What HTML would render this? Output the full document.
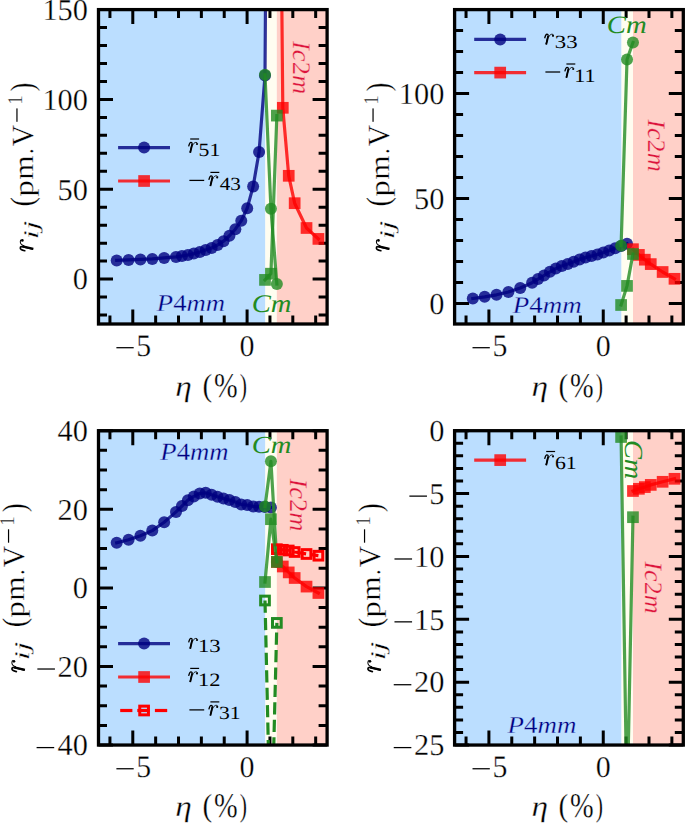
<!DOCTYPE html><html><head><meta charset="utf-8"><style>html,body{margin:0;padding:0;background:#fff;overflow:hidden}svg{display:block}</style></head><body><svg width="685" height="824" viewBox="0 0 685 824" font-family="'Liberation Serif', serif" text-rendering="geometricPrecision">
<rect width="685" height="824" fill="#fff"/>
<style>.w text{stroke:#fff;stroke-width:0.3px}.bb text{stroke:#BBDEFF;stroke-width:0.3px}.pk text{stroke:#FFD0C8;stroke-width:0.3px}</style>
<defs>
<g id="cmr" fill="none" stroke="#000"><path d="M0.025 0.285 C0.045 0.36 0.07 0.432 0.112 0.432 C0.155 0.432 0.172 0.405 0.163 0.36 L0.085 0.028" stroke-width="0.056" stroke-linecap="round" stroke-linejoin="round"/><path d="M0.17 0.36 L0.084 0.0" stroke-width="0.076"/><path d="M0.185 0.30 C0.215 0.385 0.27 0.434 0.325 0.434 C0.36 0.434 0.388 0.42 0.394 0.398" stroke-width="0.034"/><circle cx="0.37" cy="0.365" r="0.045" fill="#000" stroke="none"/></g>
<clipPath id="ctl"><rect x="98.5" y="9.6" width="228.6" height="314.4"/></clipPath>
<clipPath id="ctr"><rect x="454.6" y="9.6" width="228.7" height="314.4"/></clipPath>
<clipPath id="cbl"><rect x="98.5" y="430.7" width="228.6" height="314.35"/></clipPath>
<clipPath id="cbr"><rect x="454.6" y="430.7" width="228.7" height="314.35"/></clipPath>
</defs>
<rect x="98.5" y="9.6" width="166.88" height="314.4" fill="#BBDEFF"/>
<rect x="265.38" y="9.6" width="11.43" height="314.4" fill="#FFFDF0"/>
<rect x="276.81" y="9.6" width="50.29" height="314.4" fill="#FFD0C8"/>
<path d="M132.79 324v-14.5M132.79 9.6v14.5M247.09 324v-14.5M247.09 9.6v14.5M109.93 324v-8.5M109.93 9.6v8.5M155.65 324v-8.5M155.65 9.6v8.5M178.51 324v-8.5M178.51 9.6v8.5M201.37 324v-8.5M201.37 9.6v8.5M224.23 324v-8.5M224.23 9.6v8.5M269.95 324v-8.5M269.95 9.6v8.5M292.81 324v-8.5M292.81 9.6v8.5M315.67 324v-8.5M315.67 9.6v8.5M98.5 279.09h14.5M327.1 279.09h-14.5M98.5 189.26h14.5M327.1 189.26h-14.5M98.5 99.43h14.5M327.1 99.43h-14.5M98.5 9.6h14.5M327.1 9.6h-14.5M98.5 315.02h8.5M327.1 315.02h-8.5M98.5 297.05h8.5M327.1 297.05h-8.5M98.5 261.12h8.5M327.1 261.12h-8.5M98.5 243.15h8.5M327.1 243.15h-8.5M98.5 225.19h8.5M327.1 225.19h-8.5M98.5 207.22h8.5M327.1 207.22h-8.5M98.5 171.29h8.5M327.1 171.29h-8.5M98.5 153.33h8.5M327.1 153.33h-8.5M98.5 135.36h8.5M327.1 135.36h-8.5M98.5 117.39h8.5M327.1 117.39h-8.5M98.5 81.46h8.5M327.1 81.46h-8.5M98.5 63.5h8.5M327.1 63.5h-8.5M98.5 45.53h8.5M327.1 45.53h-8.5M98.5 27.57h8.5M327.1 27.57h-8.5" stroke="#000" stroke-width="3.0" fill="none"/>
<g clip-path="url(#ctl)">
<path d="M116.7 260.4L128.56 259.9L140.43 259.4L152.29 258.9L164.16 257.9L176.02 256.9L181.95 256L187.88 255L193.82 253.6L199.75 252L205.68 250L211.61 248L217.54 245L223.48 241.2L229.41 235.8L235.34 229.2L241.27 220.7L247.2 208.3L253.14 186.4L259.07 151.9L265 75.5L270.93 -800" stroke="#000080" stroke-opacity="0.8" stroke-width="3.2" fill="none" stroke-linejoin="round" stroke-linecap="square"/>
<circle cx="116.7" cy="260.4" r="6.0" fill="#000080" fill-opacity="0.8"/>
<circle cx="128.56" cy="259.9" r="6.0" fill="#000080" fill-opacity="0.8"/>
<circle cx="140.43" cy="259.4" r="6.0" fill="#000080" fill-opacity="0.8"/>
<circle cx="152.29" cy="258.9" r="6.0" fill="#000080" fill-opacity="0.8"/>
<circle cx="164.16" cy="257.9" r="6.0" fill="#000080" fill-opacity="0.8"/>
<circle cx="176.02" cy="256.9" r="6.0" fill="#000080" fill-opacity="0.8"/>
<circle cx="181.95" cy="256" r="6.0" fill="#000080" fill-opacity="0.8"/>
<circle cx="187.88" cy="255" r="6.0" fill="#000080" fill-opacity="0.8"/>
<circle cx="193.82" cy="253.6" r="6.0" fill="#000080" fill-opacity="0.8"/>
<circle cx="199.75" cy="252" r="6.0" fill="#000080" fill-opacity="0.8"/>
<circle cx="205.68" cy="250" r="6.0" fill="#000080" fill-opacity="0.8"/>
<circle cx="211.61" cy="248" r="6.0" fill="#000080" fill-opacity="0.8"/>
<circle cx="217.54" cy="245" r="6.0" fill="#000080" fill-opacity="0.8"/>
<circle cx="223.48" cy="241.2" r="6.0" fill="#000080" fill-opacity="0.8"/>
<circle cx="229.41" cy="235.8" r="6.0" fill="#000080" fill-opacity="0.8"/>
<circle cx="235.34" cy="229.2" r="6.0" fill="#000080" fill-opacity="0.8"/>
<circle cx="241.27" cy="220.7" r="6.0" fill="#000080" fill-opacity="0.8"/>
<circle cx="247.2" cy="208.3" r="6.0" fill="#000080" fill-opacity="0.8"/>
<circle cx="253.14" cy="186.4" r="6.0" fill="#000080" fill-opacity="0.8"/>
<circle cx="259.07" cy="151.9" r="6.0" fill="#000080" fill-opacity="0.8"/>
<circle cx="265" cy="75.5" r="6.0" fill="#000080" fill-opacity="0.8"/>
<path d="M265 74.8L270.93 208.7L276.86 284.1" stroke="#228B22" stroke-opacity="0.8" stroke-width="3.2" fill="none" stroke-linejoin="round" stroke-linecap="square"/>
<circle cx="265" cy="74.8" r="6.0" fill="#228B22" fill-opacity="0.8"/>
<circle cx="270.93" cy="208.7" r="6.0" fill="#228B22" fill-opacity="0.8"/>
<circle cx="276.86" cy="284.1" r="6.0" fill="#228B22" fill-opacity="0.8"/>
<path d="M276.86 -525L282.8 107.8L288.73 175.8L294.66 203.2L306.52 228L318.39 238.9" stroke="#FF0000" stroke-opacity="0.8" stroke-width="3.2" fill="none" stroke-linejoin="round" stroke-linecap="square"/>
<rect x="276.95" y="101.95" width="11.7" height="11.7" fill="#FF0000" fill-opacity="0.8"/>
<rect x="282.88" y="169.95" width="11.7" height="11.7" fill="#FF0000" fill-opacity="0.8"/>
<rect x="288.81" y="197.35" width="11.7" height="11.7" fill="#FF0000" fill-opacity="0.8"/>
<rect x="300.67" y="222.15" width="11.7" height="11.7" fill="#FF0000" fill-opacity="0.8"/>
<rect x="312.54" y="233.05" width="11.7" height="11.7" fill="#FF0000" fill-opacity="0.8"/>
<path d="M265 279.9L270.93 273.7L276.86 115.6" stroke="#228B22" stroke-opacity="0.8" stroke-width="3.2" fill="none" stroke-linejoin="round" stroke-linecap="square"/>
<rect x="259.15" y="274.05" width="11.7" height="11.7" fill="#228B22" fill-opacity="0.8"/>
<rect x="265.08" y="267.85" width="11.7" height="11.7" fill="#228B22" fill-opacity="0.8"/>
<rect x="271.01" y="109.75" width="11.7" height="11.7" fill="#228B22" fill-opacity="0.8"/>
</g>
<rect x="98.5" y="9.6" width="228.6" height="314.4" fill="none" stroke="#000" stroke-width="3.3"/>
<rect x="454.6" y="9.6" width="166.95" height="314.4" fill="#BBDEFF"/>
<rect x="621.55" y="9.6" width="11.44" height="314.4" fill="#FFFDF0"/>
<rect x="632.99" y="9.6" width="50.31" height="314.4" fill="#FFD0C8"/>
<path d="M488.91 324v-14.5M488.91 9.6v14.5M603.25 324v-14.5M603.25 9.6v14.5M466.04 324v-8.5M466.04 9.6v8.5M511.77 324v-8.5M511.77 9.6v8.5M534.64 324v-8.5M534.64 9.6v8.5M557.51 324v-8.5M557.51 9.6v8.5M580.38 324v-8.5M580.38 9.6v8.5M626.12 324v-8.5M626.12 9.6v8.5M648.99 324v-8.5M648.99 9.6v8.5M671.87 324v-8.5M671.87 9.6v8.5M454.6 303.41h14.5M683.3 303.41h-14.5M454.6 198.44h14.5M683.3 198.44h-14.5M454.6 93.47h14.5M683.3 93.47h-14.5M454.6 282.41h8.5M683.3 282.41h-8.5M454.6 261.42h8.5M683.3 261.42h-8.5M454.6 240.42h8.5M683.3 240.42h-8.5M454.6 219.43h8.5M683.3 219.43h-8.5M454.6 177.44h8.5M683.3 177.44h-8.5M454.6 156.45h8.5M683.3 156.45h-8.5M454.6 135.46h8.5M683.3 135.46h-8.5M454.6 114.46h8.5M683.3 114.46h-8.5M454.6 72.48h8.5M683.3 72.48h-8.5M454.6 51.48h8.5M683.3 51.48h-8.5M454.6 30.49h8.5M683.3 30.49h-8.5" stroke="#000" stroke-width="3.0" fill="none"/>
<g clip-path="url(#ctr)">
<path d="M472.8 298.5L484.66 296.8L496.53 294.8L508.39 292L520.26 288L532.12 282.7L538.05 279.1L543.98 275.5L549.92 271.8L555.85 268.6L561.78 265.9L567.71 263.9L573.64 261.8L579.58 259.4L585.51 257.6L591.44 256L597.37 254.5L603.3 252.6L609.24 250.5L615.17 248.2L621.1 246L627.03 243.7" stroke="#000080" stroke-opacity="0.8" stroke-width="3.2" fill="none" stroke-linejoin="round" stroke-linecap="square"/>
<circle cx="472.8" cy="298.5" r="6.0" fill="#000080" fill-opacity="0.8"/>
<circle cx="484.66" cy="296.8" r="6.0" fill="#000080" fill-opacity="0.8"/>
<circle cx="496.53" cy="294.8" r="6.0" fill="#000080" fill-opacity="0.8"/>
<circle cx="508.39" cy="292" r="6.0" fill="#000080" fill-opacity="0.8"/>
<circle cx="520.26" cy="288" r="6.0" fill="#000080" fill-opacity="0.8"/>
<circle cx="532.12" cy="282.7" r="6.0" fill="#000080" fill-opacity="0.8"/>
<circle cx="538.05" cy="279.1" r="6.0" fill="#000080" fill-opacity="0.8"/>
<circle cx="543.98" cy="275.5" r="6.0" fill="#000080" fill-opacity="0.8"/>
<circle cx="549.92" cy="271.8" r="6.0" fill="#000080" fill-opacity="0.8"/>
<circle cx="555.85" cy="268.6" r="6.0" fill="#000080" fill-opacity="0.8"/>
<circle cx="561.78" cy="265.9" r="6.0" fill="#000080" fill-opacity="0.8"/>
<circle cx="567.71" cy="263.9" r="6.0" fill="#000080" fill-opacity="0.8"/>
<circle cx="573.64" cy="261.8" r="6.0" fill="#000080" fill-opacity="0.8"/>
<circle cx="579.58" cy="259.4" r="6.0" fill="#000080" fill-opacity="0.8"/>
<circle cx="585.51" cy="257.6" r="6.0" fill="#000080" fill-opacity="0.8"/>
<circle cx="591.44" cy="256" r="6.0" fill="#000080" fill-opacity="0.8"/>
<circle cx="597.37" cy="254.5" r="6.0" fill="#000080" fill-opacity="0.8"/>
<circle cx="603.3" cy="252.6" r="6.0" fill="#000080" fill-opacity="0.8"/>
<circle cx="609.24" cy="250.5" r="6.0" fill="#000080" fill-opacity="0.8"/>
<circle cx="615.17" cy="248.2" r="6.0" fill="#000080" fill-opacity="0.8"/>
<circle cx="621.1" cy="246" r="6.0" fill="#000080" fill-opacity="0.8"/>
<circle cx="627.03" cy="243.7" r="6.0" fill="#000080" fill-opacity="0.8"/>
<path d="M621.1 245.8L627.03 59.5L632.96 42.6" stroke="#228B22" stroke-opacity="0.8" stroke-width="3.2" fill="none" stroke-linejoin="round" stroke-linecap="square"/>
<circle cx="621.1" cy="245.8" r="6.0" fill="#228B22" fill-opacity="0.8"/>
<circle cx="627.03" cy="59.5" r="6.0" fill="#228B22" fill-opacity="0.8"/>
<circle cx="632.96" cy="42.6" r="6.0" fill="#228B22" fill-opacity="0.8"/>
<path d="M632.96 249.2L638.9 254.9L644.83 259.7L650.76 264.1L662.62 272L674.49 278.8" stroke="#FF0000" stroke-opacity="0.8" stroke-width="3.2" fill="none" stroke-linejoin="round" stroke-linecap="square"/>
<rect x="627.11" y="243.35" width="11.7" height="11.7" fill="#FF0000" fill-opacity="0.8"/>
<rect x="633.05" y="249.05" width="11.7" height="11.7" fill="#FF0000" fill-opacity="0.8"/>
<rect x="638.98" y="253.85" width="11.7" height="11.7" fill="#FF0000" fill-opacity="0.8"/>
<rect x="644.91" y="258.25" width="11.7" height="11.7" fill="#FF0000" fill-opacity="0.8"/>
<rect x="656.77" y="266.15" width="11.7" height="11.7" fill="#FF0000" fill-opacity="0.8"/>
<rect x="668.64" y="272.95" width="11.7" height="11.7" fill="#FF0000" fill-opacity="0.8"/>
<path d="M621.1 305L627.03 285.9L632.96 254" stroke="#228B22" stroke-opacity="0.8" stroke-width="3.2" fill="none" stroke-linejoin="round" stroke-linecap="square"/>
<rect x="615.25" y="299.15" width="11.7" height="11.7" fill="#228B22" fill-opacity="0.8"/>
<rect x="621.18" y="280.05" width="11.7" height="11.7" fill="#228B22" fill-opacity="0.8"/>
<rect x="627.11" y="248.15" width="11.7" height="11.7" fill="#228B22" fill-opacity="0.8"/>
</g>
<rect x="454.6" y="9.6" width="228.7" height="314.4" fill="none" stroke="#000" stroke-width="3.3"/>
<rect x="98.5" y="430.7" width="166.88" height="314.35" fill="#BBDEFF"/>
<rect x="265.38" y="430.7" width="11.43" height="314.35" fill="#FFFDF0"/>
<rect x="276.81" y="430.7" width="50.29" height="314.35" fill="#FFD0C8"/>
<path d="M132.79 745.05v-14.5M132.79 430.7v14.5M247.09 745.05v-14.5M247.09 430.7v14.5M109.93 745.05v-8.5M109.93 430.7v8.5M155.65 745.05v-8.5M155.65 430.7v8.5M178.51 745.05v-8.5M178.51 430.7v8.5M201.37 745.05v-8.5M201.37 430.7v8.5M224.23 745.05v-8.5M224.23 430.7v8.5M269.95 745.05v-8.5M269.95 430.7v8.5M292.81 745.05v-8.5M292.81 430.7v8.5M315.67 745.05v-8.5M315.67 430.7v8.5M98.5 745.05h14.5M327.1 745.05h-14.5M98.5 666.46h14.5M327.1 666.46h-14.5M98.5 587.88h14.5M327.1 587.88h-14.5M98.5 509.29h14.5M327.1 509.29h-14.5M98.5 430.7h14.5M327.1 430.7h-14.5M98.5 725.4h8.5M327.1 725.4h-8.5M98.5 705.76h8.5M327.1 705.76h-8.5M98.5 686.11h8.5M327.1 686.11h-8.5M98.5 646.82h8.5M327.1 646.82h-8.5M98.5 627.17h8.5M327.1 627.17h-8.5M98.5 607.52h8.5M327.1 607.52h-8.5M98.5 568.23h8.5M327.1 568.23h-8.5M98.5 548.58h8.5M327.1 548.58h-8.5M98.5 528.93h8.5M327.1 528.93h-8.5M98.5 489.64h8.5M327.1 489.64h-8.5M98.5 469.99h8.5M327.1 469.99h-8.5M98.5 450.35h8.5M327.1 450.35h-8.5" stroke="#000" stroke-width="3.0" fill="none"/>
<g clip-path="url(#cbl)">
<path d="M116.7 542.7L128.56 539.8L140.43 535.7L152.29 530.6L164.16 522.3L176.02 511.9L181.95 506.1L187.88 500.2L193.82 496.4L199.75 493.5L205.68 492.8L211.61 494.8L217.54 496.7L223.48 498.5L229.41 500L235.34 502L241.27 504.5L247.2 505L253.14 506.5L259.07 506.8L265 507L270.93 507.4" stroke="#000080" stroke-opacity="0.8" stroke-width="3.2" fill="none" stroke-linejoin="round" stroke-linecap="square"/>
<circle cx="116.7" cy="542.7" r="6.0" fill="#000080" fill-opacity="0.8"/>
<circle cx="128.56" cy="539.8" r="6.0" fill="#000080" fill-opacity="0.8"/>
<circle cx="140.43" cy="535.7" r="6.0" fill="#000080" fill-opacity="0.8"/>
<circle cx="152.29" cy="530.6" r="6.0" fill="#000080" fill-opacity="0.8"/>
<circle cx="164.16" cy="522.3" r="6.0" fill="#000080" fill-opacity="0.8"/>
<circle cx="176.02" cy="511.9" r="6.0" fill="#000080" fill-opacity="0.8"/>
<circle cx="181.95" cy="506.1" r="6.0" fill="#000080" fill-opacity="0.8"/>
<circle cx="187.88" cy="500.2" r="6.0" fill="#000080" fill-opacity="0.8"/>
<circle cx="193.82" cy="496.4" r="6.0" fill="#000080" fill-opacity="0.8"/>
<circle cx="199.75" cy="493.5" r="6.0" fill="#000080" fill-opacity="0.8"/>
<circle cx="205.68" cy="492.8" r="6.0" fill="#000080" fill-opacity="0.8"/>
<circle cx="211.61" cy="494.8" r="6.0" fill="#000080" fill-opacity="0.8"/>
<circle cx="217.54" cy="496.7" r="6.0" fill="#000080" fill-opacity="0.8"/>
<circle cx="223.48" cy="498.5" r="6.0" fill="#000080" fill-opacity="0.8"/>
<circle cx="229.41" cy="500" r="6.0" fill="#000080" fill-opacity="0.8"/>
<circle cx="235.34" cy="502" r="6.0" fill="#000080" fill-opacity="0.8"/>
<circle cx="241.27" cy="504.5" r="6.0" fill="#000080" fill-opacity="0.8"/>
<circle cx="247.2" cy="505" r="6.0" fill="#000080" fill-opacity="0.8"/>
<circle cx="253.14" cy="506.5" r="6.0" fill="#000080" fill-opacity="0.8"/>
<circle cx="259.07" cy="506.8" r="6.0" fill="#000080" fill-opacity="0.8"/>
<circle cx="265" cy="507" r="6.0" fill="#000080" fill-opacity="0.8"/>
<circle cx="270.93" cy="507.4" r="6.0" fill="#000080" fill-opacity="0.8"/>
<path d="M265 506.6L270.93 461.3L276.86 562" stroke="#228B22" stroke-opacity="0.8" stroke-width="3.2" fill="none" stroke-linejoin="round" stroke-linecap="square"/>
<circle cx="265" cy="506.6" r="6.0" fill="#228B22" fill-opacity="0.8"/>
<circle cx="270.93" cy="461.3" r="6.0" fill="#228B22" fill-opacity="0.8"/>
<circle cx="276.86" cy="562" r="6.0" fill="#228B22" fill-opacity="0.8"/>
<path d="M276.86 562L282.8 566.5L288.73 572.4L294.66 578L306.52 586.6L318.39 593" stroke="#FF0000" stroke-opacity="0.8" stroke-width="3.2" fill="none" stroke-linejoin="round" stroke-linecap="square"/>
<rect x="271.01" y="556.15" width="11.7" height="11.7" fill="#FF0000" fill-opacity="0.8"/>
<rect x="276.95" y="560.65" width="11.7" height="11.7" fill="#FF0000" fill-opacity="0.8"/>
<rect x="282.88" y="566.55" width="11.7" height="11.7" fill="#FF0000" fill-opacity="0.8"/>
<rect x="288.81" y="572.15" width="11.7" height="11.7" fill="#FF0000" fill-opacity="0.8"/>
<rect x="300.67" y="580.75" width="11.7" height="11.7" fill="#FF0000" fill-opacity="0.8"/>
<rect x="312.54" y="587.15" width="11.7" height="11.7" fill="#FF0000" fill-opacity="0.8"/>
<path d="M276.86 549.2L282.8 549.8L288.73 550.5L294.66 552L306.52 554L318.39 555.7" stroke="#FF0000" stroke-opacity="1.0" stroke-width="3.2" fill="none" stroke-linejoin="round" stroke-dasharray="12.2 5.24"/>
<rect x="272.51" y="544.85" width="8.7" height="8.7" fill="none" stroke="#FF0000" stroke-opacity="1.0" stroke-width="3"/>
<rect x="278.45" y="545.45" width="8.7" height="8.7" fill="none" stroke="#FF0000" stroke-opacity="1.0" stroke-width="3"/>
<rect x="284.38" y="546.15" width="8.7" height="8.7" fill="none" stroke="#FF0000" stroke-opacity="1.0" stroke-width="3"/>
<rect x="290.31" y="547.65" width="8.7" height="8.7" fill="none" stroke="#FF0000" stroke-opacity="1.0" stroke-width="3"/>
<rect x="302.17" y="549.65" width="8.7" height="8.7" fill="none" stroke="#FF0000" stroke-opacity="1.0" stroke-width="3"/>
<rect x="314.04" y="551.35" width="8.7" height="8.7" fill="none" stroke="#FF0000" stroke-opacity="1.0" stroke-width="3"/>
<path d="M265 582L270.93 519.2L276.86 561.9" stroke="#228B22" stroke-opacity="0.8" stroke-width="3.2" fill="none" stroke-linejoin="round" stroke-linecap="square"/>
<rect x="259.15" y="576.15" width="11.7" height="11.7" fill="#228B22" fill-opacity="0.8"/>
<rect x="265.08" y="513.35" width="11.7" height="11.7" fill="#228B22" fill-opacity="0.8"/>
<rect x="271.01" y="556.05" width="11.7" height="11.7" fill="#228B22" fill-opacity="0.8"/>
<path d="M265 600.5L270.93 858L276.86 622.9" stroke="#228B22" stroke-opacity="1.0" stroke-width="3.2" fill="none" stroke-linejoin="round" stroke-dasharray="12.2 5.24"/>
<rect x="260.65" y="596.15" width="8.7" height="8.7" fill="none" stroke="#228B22" stroke-opacity="1.0" stroke-width="3"/>
<rect x="266.58" y="853.65" width="8.7" height="8.7" fill="none" stroke="#228B22" stroke-opacity="1.0" stroke-width="3"/>
<rect x="272.51" y="618.55" width="8.7" height="8.7" fill="none" stroke="#228B22" stroke-opacity="1.0" stroke-width="3"/>
</g>
<rect x="98.5" y="430.7" width="228.6" height="314.35" fill="none" stroke="#000" stroke-width="3.3"/>
<rect x="454.6" y="430.7" width="166.95" height="314.35" fill="#BBDEFF"/>
<rect x="621.55" y="430.7" width="11.44" height="314.35" fill="#FFFDF0"/>
<rect x="632.99" y="430.7" width="50.31" height="314.35" fill="#FFD0C8"/>
<path d="M488.91 745.05v-14.5M488.91 430.7v14.5M603.25 745.05v-14.5M603.25 430.7v14.5M466.04 745.05v-8.5M466.04 430.7v8.5M511.77 745.05v-8.5M511.77 430.7v8.5M534.64 745.05v-8.5M534.64 430.7v8.5M557.51 745.05v-8.5M557.51 430.7v8.5M580.38 745.05v-8.5M580.38 430.7v8.5M626.12 745.05v-8.5M626.12 430.7v8.5M648.99 745.05v-8.5M648.99 430.7v8.5M671.87 745.05v-8.5M671.87 430.7v8.5M454.6 430.7h14.5M683.3 430.7h-14.5M454.6 493.57h14.5M683.3 493.57h-14.5M454.6 556.44h14.5M683.3 556.44h-14.5M454.6 619.31h14.5M683.3 619.31h-14.5M454.6 682.18h14.5M683.3 682.18h-14.5M454.6 745.05h14.5M683.3 745.05h-14.5M454.6 732.48h8.5M683.3 732.48h-8.5M454.6 719.9h8.5M683.3 719.9h-8.5M454.6 707.33h8.5M683.3 707.33h-8.5M454.6 694.75h8.5M683.3 694.75h-8.5M454.6 669.61h8.5M683.3 669.61h-8.5M454.6 657.03h8.5M683.3 657.03h-8.5M454.6 644.46h8.5M683.3 644.46h-8.5M454.6 631.88h8.5M683.3 631.88h-8.5M454.6 606.74h8.5M683.3 606.74h-8.5M454.6 594.16h8.5M683.3 594.16h-8.5M454.6 581.59h8.5M683.3 581.59h-8.5M454.6 569.01h8.5M683.3 569.01h-8.5M454.6 543.87h8.5M683.3 543.87h-8.5M454.6 531.29h8.5M683.3 531.29h-8.5M454.6 518.72h8.5M683.3 518.72h-8.5M454.6 506.14h8.5M683.3 506.14h-8.5M454.6 481h8.5M683.3 481h-8.5M454.6 468.42h8.5M683.3 468.42h-8.5M454.6 455.85h8.5M683.3 455.85h-8.5M454.6 443.27h8.5M683.3 443.27h-8.5" stroke="#000" stroke-width="3.0" fill="none"/>
<g clip-path="url(#cbr)">
<path d="M632.96 491L638.9 488.8L644.83 487.1L650.76 484.9L662.62 481.8L674.49 478.8" stroke="#FF0000" stroke-opacity="0.8" stroke-width="3.2" fill="none" stroke-linejoin="round" stroke-linecap="square"/>
<rect x="627.11" y="485.15" width="11.7" height="11.7" fill="#FF0000" fill-opacity="0.8"/>
<rect x="633.05" y="482.95" width="11.7" height="11.7" fill="#FF0000" fill-opacity="0.8"/>
<rect x="638.98" y="481.25" width="11.7" height="11.7" fill="#FF0000" fill-opacity="0.8"/>
<rect x="644.91" y="479.05" width="11.7" height="11.7" fill="#FF0000" fill-opacity="0.8"/>
<rect x="656.77" y="475.95" width="11.7" height="11.7" fill="#FF0000" fill-opacity="0.8"/>
<rect x="668.64" y="472.95" width="11.7" height="11.7" fill="#FF0000" fill-opacity="0.8"/>
<path d="M621.1 437L627.03 810L632.96 517.2" stroke="#228B22" stroke-opacity="0.8" stroke-width="3.2" fill="none" stroke-linejoin="round" stroke-linecap="square"/>
<rect x="615.25" y="431.15" width="11.7" height="11.7" fill="#228B22" fill-opacity="0.8"/>
<rect x="621.18" y="804.15" width="11.7" height="11.7" fill="#228B22" fill-opacity="0.8"/>
<rect x="627.11" y="511.35" width="11.7" height="11.7" fill="#228B22" fill-opacity="0.8"/>
</g>
<rect x="454.6" y="430.7" width="228.7" height="314.35" fill="none" stroke="#000" stroke-width="3.3"/>
<g class="w">
<rect x="116.39" y="347.08" width="17.3" height="1.25" fill="#000"/>
<text x="136.36" y="355.70" font-size="31.15" textLength="14.89" lengthAdjust="spacingAndGlyphs">5</text>
<text x="247.09" y="355.6" font-size="30" text-anchor="middle">0</text>
<rect x="472.51" y="347.08" width="17.3" height="1.25" fill="#000"/>
<text x="492.47" y="355.70" font-size="31.15" textLength="14.89" lengthAdjust="spacingAndGlyphs">5</text>
<text x="603.25" y="355.6" font-size="30" text-anchor="middle">0</text>
<rect x="116.39" y="768.13" width="17.3" height="1.25" fill="#000"/>
<text x="136.36" y="776.75" font-size="31.15" textLength="14.89" lengthAdjust="spacingAndGlyphs">5</text>
<text x="247.09" y="776.65" font-size="30" text-anchor="middle">0</text>
<rect x="472.51" y="768.13" width="17.3" height="1.25" fill="#000"/>
<text x="492.47" y="776.75" font-size="31.15" textLength="14.89" lengthAdjust="spacingAndGlyphs">5</text>
<text x="603.25" y="776.65" font-size="30" text-anchor="middle">0</text>
<text x="88" y="19.85" font-size="30.4" text-anchor="end">150</text>
<text x="88" y="109.68" font-size="30.4" text-anchor="end">100</text>
<text x="88" y="199.51" font-size="30.4" text-anchor="end">50</text>
<text x="88" y="289.34" font-size="30.4" text-anchor="end">0</text>
<text x="444.4" y="103.72" font-size="30.4" text-anchor="end">100</text>
<text x="444.4" y="208.69" font-size="30.4" text-anchor="end">50</text>
<text x="444.4" y="313.66" font-size="30.4" text-anchor="end">0</text>
<text x="88" y="440.95" font-size="30.4" text-anchor="end">40</text>
<text x="88" y="519.54" font-size="30.4" text-anchor="end">20</text>
<text x="88" y="598.12" font-size="30.4" text-anchor="end">0</text>
<text x="88" y="676.71" font-size="30.4" text-anchor="end">20</text>
<rect x="37.34" y="668.39" width="17.6" height="1.25" fill="#000"/>
<text x="88" y="755.3" font-size="30.4" text-anchor="end">40</text>
<rect x="36.59" y="746.97" width="17.6" height="1.25" fill="#000"/>
<text x="444.4" y="440.95" font-size="30.4" text-anchor="end">0</text>
<text x="444.4" y="503.82" font-size="30.4" text-anchor="end">5</text>
<rect x="409.37" y="495.5" width="17.6" height="1.25" fill="#000"/>
<text x="444.4" y="566.69" font-size="30.4" text-anchor="end">10</text>
<rect x="394.47" y="558.36" width="17.6" height="1.25" fill="#000"/>
<text x="444.4" y="629.56" font-size="30.4" text-anchor="end">15</text>
<rect x="394.47" y="621.23" width="17.6" height="1.25" fill="#000"/>
<text x="444.4" y="692.43" font-size="30.4" text-anchor="end">20</text>
<rect x="393.74" y="684.1" width="17.6" height="1.25" fill="#000"/>
<text x="444.4" y="755.3" font-size="30.4" text-anchor="end">25</text>
<rect x="393.74" y="746.97" width="17.6" height="1.25" fill="#000"/>
<g transform="translate(0 0)">
<text x="175.31" y="395.70" font-size="29.07" font-style="italic" textLength="16.58" lengthAdjust="spacingAndGlyphs">η</text>
<text x="202.52" y="395.67" font-size="32.09" textLength="9.72" lengthAdjust="spacingAndGlyphs">(</text>
<text x="214.03" y="396.74" font-size="34.65" textLength="23.64" lengthAdjust="spacingAndGlyphs">%</text>
<text x="239.70" y="395.67" font-size="32.09" textLength="7.26" lengthAdjust="spacingAndGlyphs">)</text>
</g>
<g transform="translate(356.1 0)">
<text x="175.31" y="395.70" font-size="29.07" font-style="italic" textLength="16.58" lengthAdjust="spacingAndGlyphs">η</text>
<text x="202.52" y="395.67" font-size="32.09" textLength="9.72" lengthAdjust="spacingAndGlyphs">(</text>
<text x="214.03" y="396.74" font-size="34.65" textLength="23.64" lengthAdjust="spacingAndGlyphs">%</text>
<text x="239.70" y="395.67" font-size="32.09" textLength="7.26" lengthAdjust="spacingAndGlyphs">)</text>
</g>
<g transform="translate(0 420.7)">
<text x="175.31" y="395.70" font-size="29.07" font-style="italic" textLength="16.58" lengthAdjust="spacingAndGlyphs">η</text>
<text x="202.52" y="395.67" font-size="32.09" textLength="9.72" lengthAdjust="spacingAndGlyphs">(</text>
<text x="214.03" y="396.74" font-size="34.65" textLength="23.64" lengthAdjust="spacingAndGlyphs">%</text>
<text x="239.70" y="395.67" font-size="32.09" textLength="7.26" lengthAdjust="spacingAndGlyphs">)</text>
</g>
<g transform="translate(356.1 420.7)">
<text x="175.31" y="395.70" font-size="29.07" font-style="italic" textLength="16.58" lengthAdjust="spacingAndGlyphs">η</text>
<text x="202.52" y="395.67" font-size="32.09" textLength="9.72" lengthAdjust="spacingAndGlyphs">(</text>
<text x="214.03" y="396.74" font-size="34.65" textLength="23.64" lengthAdjust="spacingAndGlyphs">%</text>
<text x="239.70" y="395.67" font-size="32.09" textLength="7.26" lengthAdjust="spacingAndGlyphs">)</text>
</g>
<g transform="translate(0 0) rotate(-90)">
<use href="#cmr" transform="translate(-251.50 33.30) scale(30.00 -30.00)"/>
<text x="-239.25" y="37.77" font-size="20.80" font-style="italic" textLength="18.46" lengthAdjust="spacingAndGlyphs">ij</text>
<text x="-206.45" y="33.40" font-size="32.87" textLength="9.47" lengthAdjust="spacingAndGlyphs">(</text>
<text x="-196.84" y="32.55" font-size="27.48" textLength="16.64" lengthAdjust="spacingAndGlyphs">p</text>
<text x="-179.75" y="32.90" font-size="28.23" textLength="24.24" lengthAdjust="spacingAndGlyphs">m</text>
<text x="-154.01" y="32.90" font-size="28.00" textLength="5.71" lengthAdjust="spacingAndGlyphs">.</text>
<text x="-146.33" y="32.73" font-size="30.75" textLength="21.26" lengthAdjust="spacingAndGlyphs">V</text>
<text x="-104.85" y="22.20" font-size="20.90" textLength="9.37" lengthAdjust="spacingAndGlyphs">1</text>
<text x="-91.23" y="33.38" font-size="32.98" textLength="8.56" lengthAdjust="spacingAndGlyphs">)</text>
<rect x="-121.8" y="16.35" width="13.4" height="1.2" fill="#000"/>
</g>
<g transform="translate(356.1 0) rotate(-90)">
<use href="#cmr" transform="translate(-251.50 33.30) scale(30.00 -30.00)"/>
<text x="-239.25" y="37.77" font-size="20.80" font-style="italic" textLength="18.46" lengthAdjust="spacingAndGlyphs">ij</text>
<text x="-206.45" y="33.40" font-size="32.87" textLength="9.47" lengthAdjust="spacingAndGlyphs">(</text>
<text x="-196.84" y="32.55" font-size="27.48" textLength="16.64" lengthAdjust="spacingAndGlyphs">p</text>
<text x="-179.75" y="32.90" font-size="28.23" textLength="24.24" lengthAdjust="spacingAndGlyphs">m</text>
<text x="-154.01" y="32.90" font-size="28.00" textLength="5.71" lengthAdjust="spacingAndGlyphs">.</text>
<text x="-146.33" y="32.73" font-size="30.75" textLength="21.26" lengthAdjust="spacingAndGlyphs">V</text>
<text x="-104.85" y="22.20" font-size="20.90" textLength="9.37" lengthAdjust="spacingAndGlyphs">1</text>
<text x="-91.23" y="33.38" font-size="32.98" textLength="8.56" lengthAdjust="spacingAndGlyphs">)</text>
<rect x="-121.8" y="16.35" width="13.4" height="1.2" fill="#000"/>
</g>
<g transform="translate(-8.4 420.9) rotate(-90)">
<use href="#cmr" transform="translate(-251.50 33.30) scale(30.00 -30.00)"/>
<text x="-239.25" y="37.77" font-size="20.80" font-style="italic" textLength="18.46" lengthAdjust="spacingAndGlyphs">ij</text>
<text x="-206.45" y="33.40" font-size="32.87" textLength="9.47" lengthAdjust="spacingAndGlyphs">(</text>
<text x="-196.84" y="32.55" font-size="27.48" textLength="16.64" lengthAdjust="spacingAndGlyphs">p</text>
<text x="-179.75" y="32.90" font-size="28.23" textLength="24.24" lengthAdjust="spacingAndGlyphs">m</text>
<text x="-154.01" y="32.90" font-size="28.00" textLength="5.71" lengthAdjust="spacingAndGlyphs">.</text>
<text x="-146.33" y="32.73" font-size="30.75" textLength="21.26" lengthAdjust="spacingAndGlyphs">V</text>
<text x="-104.85" y="22.20" font-size="20.90" textLength="9.37" lengthAdjust="spacingAndGlyphs">1</text>
<text x="-91.23" y="33.38" font-size="32.98" textLength="8.56" lengthAdjust="spacingAndGlyphs">)</text>
<rect x="-121.8" y="16.35" width="13.4" height="1.2" fill="#000"/>
</g>
<g transform="translate(347.6 420.9) rotate(-90)">
<use href="#cmr" transform="translate(-251.50 33.30) scale(30.00 -30.00)"/>
<text x="-239.25" y="37.77" font-size="20.80" font-style="italic" textLength="18.46" lengthAdjust="spacingAndGlyphs">ij</text>
<text x="-206.45" y="33.40" font-size="32.87" textLength="9.47" lengthAdjust="spacingAndGlyphs">(</text>
<text x="-196.84" y="32.55" font-size="27.48" textLength="16.64" lengthAdjust="spacingAndGlyphs">p</text>
<text x="-179.75" y="32.90" font-size="28.23" textLength="24.24" lengthAdjust="spacingAndGlyphs">m</text>
<text x="-154.01" y="32.90" font-size="28.00" textLength="5.71" lengthAdjust="spacingAndGlyphs">.</text>
<text x="-146.33" y="32.73" font-size="30.75" textLength="21.26" lengthAdjust="spacingAndGlyphs">V</text>
<text x="-104.85" y="22.20" font-size="20.90" textLength="9.37" lengthAdjust="spacingAndGlyphs">1</text>
<text x="-91.23" y="33.38" font-size="32.98" textLength="8.56" lengthAdjust="spacingAndGlyphs">)</text>
<rect x="-121.8" y="16.35" width="13.4" height="1.2" fill="#000"/>
</g>
</g>
<g>
<line x1="118.1" y1="147.6" x2="170" y2="147.6" stroke="#000080" stroke-opacity="0.8" stroke-width="3.2"/>
<circle cx="144.1" cy="147.6" r="6.0" fill="#000080" fill-opacity="0.8"/>
<use href="#cmr" transform="translate(188.20 152.70) scale(23.80 -23.80)"/>
<rect x="190.2" y="138.4" width="8.9" height="1.2" fill="#000"/>
<text x="198.63" y="156.32" font-size="18.66" textLength="21.77" lengthAdjust="spacingAndGlyphs">51</text>
<line x1="118.1" y1="181" x2="170" y2="181" stroke="#FF0000" stroke-opacity="0.8" stroke-width="3.2"/>
<rect x="138.25" y="175.15" width="11.7" height="11.7" fill="#FF0000" fill-opacity="0.8"/>
<rect x="189.4" y="179.78" width="14.8" height="1.25" fill="#000"/>
<use href="#cmr" transform="translate(208.40 186.10) scale(23.80 -23.80)"/>
<rect x="210.4" y="171.8" width="8.9" height="1.2" fill="#000"/>
<text x="219.69" y="189.72" font-size="18.60" textLength="21.14" lengthAdjust="spacingAndGlyphs">43</text>
<line x1="474.2" y1="39.4" x2="526.1" y2="39.4" stroke="#000080" stroke-opacity="0.8" stroke-width="3.2"/>
<circle cx="500.2" cy="39.4" r="6.0" fill="#000080" fill-opacity="0.8"/>
<use href="#cmr" transform="translate(544.20 44.50) scale(23.80 -23.80)"/>
<text x="554.81" y="48.12" font-size="18.60" textLength="22.78" lengthAdjust="spacingAndGlyphs">33</text>
<line x1="474.2" y1="72.6" x2="526.1" y2="72.6" stroke="#FF0000" stroke-opacity="0.8" stroke-width="3.2"/>
<rect x="494.35" y="66.75" width="11.7" height="11.7" fill="#FF0000" fill-opacity="0.8"/>
<rect x="545.4" y="71.38" width="14.8" height="1.25" fill="#000"/>
<use href="#cmr" transform="translate(564.40 77.70) scale(23.80 -23.80)"/>
<rect x="566.4" y="63.4" width="8.9" height="1.2" fill="#000"/>
<text x="574.22" y="81.50" font-size="18.93" textLength="21.36" lengthAdjust="spacingAndGlyphs">11</text>
<line x1="118.1" y1="643.6" x2="170" y2="643.6" stroke="#000080" stroke-opacity="0.8" stroke-width="3.2"/>
<circle cx="144.1" cy="643.6" r="6.0" fill="#000080" fill-opacity="0.8"/>
<use href="#cmr" transform="translate(188.20 648.70) scale(23.80 -23.80)"/>
<text x="197.91" y="652.32" font-size="18.60" textLength="22.68" lengthAdjust="spacingAndGlyphs">13</text>
<line x1="118.1" y1="677" x2="170" y2="677" stroke="#FF0000" stroke-opacity="0.8" stroke-width="3.2"/>
<rect x="138.25" y="671.15" width="11.7" height="11.7" fill="#FF0000" fill-opacity="0.8"/>
<use href="#cmr" transform="translate(188.20 682.10) scale(23.80 -23.80)"/>
<rect x="190.2" y="667.8" width="8.9" height="1.2" fill="#000"/>
<text x="197.93" y="685.90" font-size="18.88" textLength="22.41" lengthAdjust="spacingAndGlyphs">12</text>
<line x1="120.2" y1="710.5" x2="132.4" y2="710.5" stroke="#FF0000" stroke-width="3.2"/>
<line x1="137.3" y1="710.5" x2="149.5" y2="710.5" stroke="#FF0000" stroke-width="3.2"/>
<line x1="154.9" y1="710.5" x2="167.2" y2="710.5" stroke="#FF0000" stroke-width="3.2"/>
<rect x="139.75" y="706.15" width="8.7" height="8.7" fill="none" stroke="#FF0000" stroke-width="3"/>
<rect x="189.4" y="709.27" width="14.8" height="1.25" fill="#000"/>
<use href="#cmr" transform="translate(208.40 715.60) scale(23.80 -23.80)"/>
<rect x="210.4" y="701.3" width="8.9" height="1.2" fill="#000"/>
<text x="219.06" y="719.22" font-size="18.60" textLength="21.63" lengthAdjust="spacingAndGlyphs">31</text>
<line x1="474.2" y1="460.1" x2="526.1" y2="460.1" stroke="#FF0000" stroke-opacity="0.8" stroke-width="3.2"/>
<rect x="494.35" y="454.25" width="11.7" height="11.7" fill="#FF0000" fill-opacity="0.8"/>
<use href="#cmr" transform="translate(544.20 465.20) scale(23.80 -23.80)"/>
<rect x="546.2" y="450.9" width="8.9" height="1.2" fill="#000"/>
<text x="554.97" y="468.82" font-size="18.60" textLength="21.74" lengthAdjust="spacingAndGlyphs">61</text>
</g>
<g class="bb">
<text x="156.84" y="310.50" font-size="24.00" fill="#000080" textLength="68.18" lengthAdjust="spacingAndGlyphs"><tspan font-style="italic">P</tspan><tspan>4</tspan><tspan font-style="italic">mm</tspan></text>
<text x="512.85" y="312.50" font-size="23.85" fill="#000080" textLength="68.99" lengthAdjust="spacingAndGlyphs"><tspan font-style="italic">P</tspan><tspan>4</tspan><tspan font-style="italic">mm</tspan></text>
<text x="160.34" y="459.80" font-size="24.76" fill="#000080" textLength="68.18" lengthAdjust="spacingAndGlyphs"><tspan font-style="italic">P</tspan><tspan>4</tspan><tspan font-style="italic">mm</tspan></text>
<text x="507.64" y="733.30" font-size="24.16" fill="#000080" textLength="68.79" lengthAdjust="spacingAndGlyphs"><tspan font-style="italic">P</tspan><tspan>4</tspan><tspan font-style="italic">mm</tspan></text>
</g>
<g class="gc">
<text x="251.71" y="312.47" font-size="25.32" font-style="italic" fill="#228B22" textLength="39.80" lengthAdjust="spacingAndGlyphs">Cm</text>
<text x="606.80" y="33.47" font-size="25.02" font-style="italic" fill="#228B22" textLength="39.91" lengthAdjust="spacingAndGlyphs">Cm</text>
<text x="251.71" y="452.97" font-size="24.58" font-style="italic" fill="#228B22" textLength="39.80" lengthAdjust="spacingAndGlyphs">Cm</text>
<g transform="rotate(90)">
<text x="439.92" y="-625.34" font-size="25.92" font-style="italic" fill="#228B22" textLength="39.37" lengthAdjust="spacingAndGlyphs">Cm</text>
</g>
</g>
<g class="pk">
<g transform="rotate(90)">
<text x="41.00" y="-292.95" font-size="25.30" fill="#DC143C" textLength="53.21" lengthAdjust="spacingAndGlyphs"><tspan font-style="italic">Ic</tspan><tspan>2</tspan><tspan font-style="italic">m</tspan></text>
</g>
<g transform="rotate(90)">
<text x="119.20" y="-648.15" font-size="25.30" fill="#DC143C" textLength="52.60" lengthAdjust="spacingAndGlyphs"><tspan font-style="italic">Ic</tspan><tspan>2</tspan><tspan font-style="italic">m</tspan></text>
</g>
<g transform="rotate(90)">
<text x="478.60" y="-290.35" font-size="25.45" fill="#DC143C" textLength="52.60" lengthAdjust="spacingAndGlyphs"><tspan font-style="italic">Ic</tspan><tspan>2</tspan><tspan font-style="italic">m</tspan></text>
</g>
<g transform="rotate(90)">
<text x="561.30" y="-645.15" font-size="25.15" fill="#DC143C" textLength="52.40" lengthAdjust="spacingAndGlyphs"><tspan font-style="italic">Ic</tspan><tspan>2</tspan><tspan font-style="italic">m</tspan></text>
</g>
</g>
</svg></body></html>
